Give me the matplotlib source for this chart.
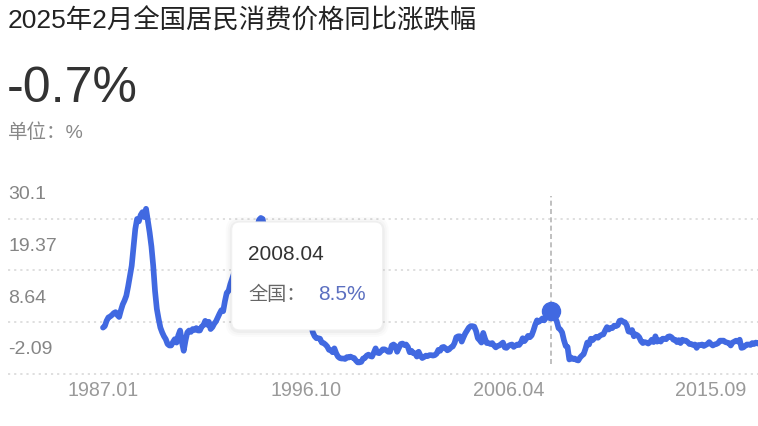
import numpy as np
import matplotlib
matplotlib.use('Agg')
import matplotlib.pyplot as plt
from matplotlib.patches import FancyBboxPatch
from matplotlib.transforms import ScaledTranslation

plt.rcParams['font.family'] = ['Liberation Sans', 'Noto Sans CJK SC', 'DejaVu Sans']

# ---------------- data ----------------
title = '2025年2月全国居民消费价格同比涨跌幅'
latest_value = '-0.7%'
unit_text = '单位：%'
series_name = '全国'

# monthly year-on-year CPI change (%)
cpi_1987_1992 = [5.0, 5.3, 6.4, 7.1, 7.3, 7.6, 8.0, 8.2, 7.6, 7.2, 8.6, 9.8,
                 10.6, 11.6, 13.5, 15.6, 17.8, 21.5, 25.4, 27.5, 27.0, 28.3, 28.9, 27.9,
                 29.6, 27.2, 24.7, 21.8, 17.8, 12.6, 8.9, 6.8, 5.0, 4.0, 3.2, 2.6,
                 1.6, 1.3, 1.3, 2.0, 2.6, 1.9, 3.4, 4.4, 2.0, 0.2, 2.3, 4.0,
                 4.4, 4.1, 4.7, 4.5, 4.9, 4.4, 4.4, 5.2, 5.5, 6.4, 5.6, 6.2,
                 4.7, 5.1, 5.8, 6.3, 7.1, 7.9, 8.6]
cpi_1993_1999 = [8.4, 10.5, 12.2, 12.6, 14.0, 15.1, 16.2, 16.0, 15.7, 16.0, 16.7, 18.8,
                 21.1, 23.2, 22.4, 21.7, 21.3, 22.6, 24.0, 25.8, 27.3, 27.7, 27.5, 25.5,
                 24.1, 22.4, 21.3, 20.7, 20.3, 18.2, 16.7, 14.5, 13.2, 12.1, 11.2, 10.1,
                 9.0, 9.3, 9.8, 9.7, 8.9, 8.6, 8.3, 8.1, 7.4, 7.0, 6.9, 7.0,
                 5.9, 5.6, 4.0, 3.2, 2.8, 2.8, 2.7, 1.9, 1.8, 1.5, 1.1, 0.4,
                 0.3, -0.1, 0.7, -0.3, -1.0, -1.3, -1.4, -1.4, -1.5, -1.1, -1.2, -1.0,
                 -1.2, -1.3, -1.8, -2.2, -2.2, -2.1, -1.4, -1.3, -0.8, -0.6, -0.9, -1.0]
cpi_2000_2008 = [-0.2, 0.7, -0.2, -0.3, 0.1, 0.5, 0.5, 0.3, 0.0, 0.0, 1.3, 1.5,
                 1.2, 0.0, 0.8, 1.6, 1.7, 1.4, 1.5, 1.0, -0.1, 0.2, -0.3, -0.3,
                 -1.0, 0.0, -0.8, -1.3, -1.1, -0.8, -0.9, -0.7, -0.7, -0.8, -0.7, -0.4,
                 0.4, 0.2, 0.9, 1.0, 0.7, 0.3, 0.5, 0.9, 1.1, 1.8, 3.0, 3.2,
                 3.2, 2.1, 3.0, 3.8, 4.4, 5.0, 5.3, 5.3, 5.2, 4.3, 2.8, 2.4,
                 1.9, 3.9, 2.7, 1.8, 1.8, 1.6, 1.8, 1.3, 0.9, 1.2, 1.3, 1.6,
                 1.9, 0.9, 0.8, 1.2, 1.4, 1.5, 1.0, 1.3, 1.5, 1.4, 1.9, 2.8,
                 2.2, 2.7, 3.3, 3.0, 3.4, 4.4, 5.6, 6.5, 6.2, 6.5, 6.9, 6.5,
                 7.1, 8.7, 8.3, 8.5, 7.7, 7.1, 6.3, 4.9, 4.6, 4.0, 2.4, 1.2]
cpi_2009_2017 = [1.0, -1.6, -1.2, -1.5, -1.4, -1.7, -1.8, -1.2, -0.8, -0.5, 0.6, 1.9,
                 1.5, 2.7, 2.4, 2.8, 3.1, 2.9, 3.3, 3.5, 3.6, 4.4, 5.1, 4.6,
                 4.9, 4.9, 5.4, 5.3, 5.5, 6.4, 6.5, 6.2, 6.1, 5.5, 4.2, 4.1,
                 4.5, 3.2, 3.6, 3.4, 3.0, 2.2, 1.8, 2.0, 1.9, 1.7, 2.0, 2.5,
                 2.0, 3.2, 2.1, 2.4, 2.1, 2.7, 2.7, 2.6, 3.1, 3.2, 3.0, 2.5,
                 2.5, 2.0, 2.4, 1.8, 2.5, 2.3, 2.3, 2.0, 1.6, 1.6, 1.4, 1.5,
                 0.8, 1.4, 1.4, 1.5, 1.2, 1.4, 1.6, 2.0, 1.6, 1.3, 1.5, 1.6,
                 1.8, 2.3, 2.3, 2.3, 2.0, 1.9, 1.8, 1.3, 1.9, 2.1, 2.3, 2.1,
                 2.5, 0.8, 0.9, 1.2, 1.5, 1.5, 1.4, 1.8, 1.6, 1.9, 1.7, 1.8]

cpi = cpi_1987_1992 + cpi_1993_1999 + cpi_2000_2008 + cpi_2009_2017
x = np.arange(len(cpi))

xtick_index = [0, 113, 226, 339]
xtick_labels = ['1987.01', '1996.10', '2006.04', '2015.09']
ytick_values = [30.1, 19.37, 8.64, -2.09]
ytick_labels = ['30.1', '19.37', '8.64', '-2.09']

hover_label = '2008.04'
hover_index = 250

# ---------------- layout ----------------
W, H, DPI = 758, 427, 100
fig = plt.figure(figsize=(W / DPI, H / DPI), dpi=DPI, facecolor='white')


def fx(px):
    return px / W


def fy(py):
    return 1 - py / H


line_color = '#4169e1'
ax_top, ax_bot, ax_left = 180, 380, 8
ax = fig.add_axes([fx(ax_left), fy(ax_bot), fx(W) - fx(ax_left), (ax_bot - ax_top) / H])
ax.set_facecolor('none')
for s in ax.spines.values():
    s.set_visible(False)

px_per_unit, anchor_val, anchor_px = 4.83, 8.5, 311.7
ax.set_ylim(anchor_val - (ax_bot - anchor_px) / px_per_unit,
            anchor_val + (anchor_px - ax_top) / px_per_unit)
step, x0px = 1.7935, 103
ax.set_xlim((ax_left - x0px) / step, (W - x0px) / step)

# dotted grid lines (drawn slightly below the label values, as in the reference)
grid_off = ScaledTranslation(0, -12.3 / DPI, fig.dpi_scale_trans)
for v in ytick_values:
    gl = ax.axhline(v, color='#dcdcdc', lw=1.3, linestyle=(0, (1.2, 2.2)), zorder=1)
    gl.set_transform(gl.get_transform() + grid_off)

# series
ax.plot(x, cpi, color=line_color, lw=4.1, solid_joinstyle='round',
        solid_capstyle='round', zorder=3)

# hover cursor
ax.axvline(hover_index, ymin=(ax_bot - 365) / (ax_bot - ax_top), ymax=(ax_bot - 197) / (ax_bot - ax_top),
           color='#b5b5b5', lw=1.2, linestyle=(0, (3, 2)), zorder=2)
ax.plot([hover_index], [cpi[hover_index]], 'o', ms=13, color=line_color, zorder=4)

# ticks
ax.set_xticks(xtick_index, xtick_labels)
ax.tick_params(axis='x', length=0, pad=1, labelsize=14.2, labelcolor='#9a9a9a')
ax.set_yticks(ytick_values, ytick_labels)
ax.tick_params(axis='y', length=0, pad=0, labelsize=14, labelcolor='#858585')
lab_off = ScaledTranslation(0, 13 / DPI, fig.dpi_scale_trans)
for t in ax.get_yticklabels():
    t.set_horizontalalignment('left')
    t.set_verticalalignment('center')
    t.set_transform(t.get_transform() + lab_off)

# header texts
fig.text(fx(8), fy(21), title, fontsize=19, va='center', ha='left', color='#222222')
fig.text(fx(7), fy(102), latest_value, fontsize=36, va='baseline', ha='left', color='#333333')
fig.text(fx(8), fy(133), unit_text, fontsize=14, va='center', ha='left', color='#888888')

# tooltip
bx0, bx1, by0, by1 = 231.7, 382.7, 223, 331
for k, a in [(6, 0.015), (4, 0.02), (2, 0.03)]:
    sh = FancyBboxPatch(((bx0 - k) / DPI, (H - by1 - k - 1) / DPI),
                        (bx1 - bx0 + 2 * k) / DPI, (by1 - by0 + 2 * k) / DPI,
                        boxstyle=f'round,pad=0,rounding_size={(8 + k) / DPI}',
                        transform=fig.dpi_scale_trans, facecolor='black', alpha=a,
                        edgecolor='none', zorder=5)
    fig.add_artist(sh)
box = FancyBboxPatch((bx0 / DPI, (H - by1) / DPI), (bx1 - bx0) / DPI, (by1 - by0) / DPI,
                     boxstyle=f'round,pad=0,rounding_size={8 / DPI}',
                     transform=fig.dpi_scale_trans, facecolor='white',
                     edgecolor='#f0f0f0', lw=0.8, zorder=6)
fig.add_artist(box)
fig.text(fx(248), fy(255), hover_label, fontsize=15, va='center', ha='left',
         color='#333333', zorder=7)
fig.text(fx(248), fy(295), series_name + '：', fontsize=13.8, va='center', ha='left',
         color='#666666', zorder=7)
fig.text(fx(318), fy(295), f'{cpi[hover_index]}%', fontsize=15, va='center', ha='left',
         color='#5b6fc0', zorder=7)

fig.savefig('out.png', dpi=DPI, facecolor='white')
